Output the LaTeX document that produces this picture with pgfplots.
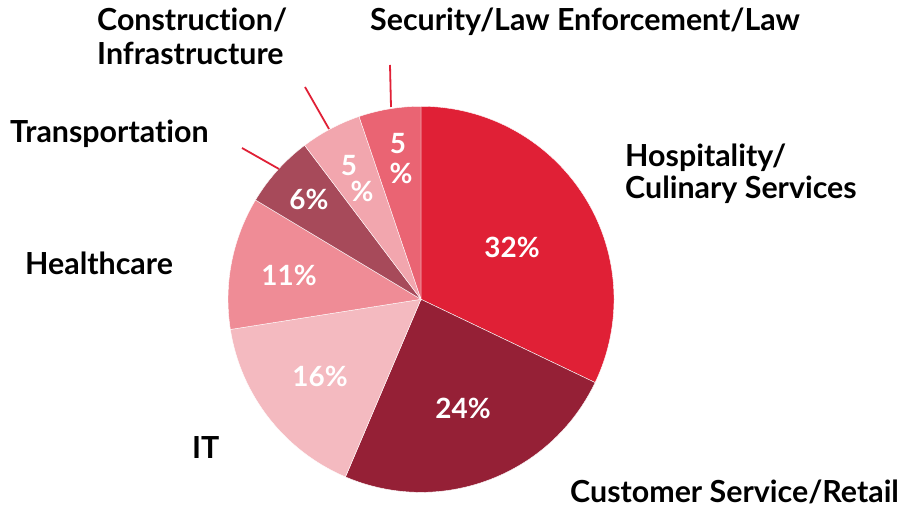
\documentclass[border=0pt]{standalone}
\usepackage{pgfplots}
\pgfplotsset{compat=1.18}
\usepackage{pgfplotstable}
\usepackage{fontspec}
\setmainfont{Lato}[Ligatures=NoCommon]
\definecolor{c1}{HTML}{E02036}
\definecolor{c2}{HTML}{952036}
\definecolor{c3}{HTML}{F4BAC0}
\definecolor{c4}{HTML}{EF8C96}
\definecolor{c5}{HTML}{A74A5A}
\definecolor{c6}{HTML}{F2A6AE}
\definecolor{c7}{HTML}{EA6473}
\definecolor{lead}{HTML}{E02036}
\pgfplotstableread{
value col
32.1 c1
24.3 c2
16.1 c3
11.1 c4
6.1 c5
5.1 c6
5.2 c7
}\piedata
\begin{document}
\begin{tikzpicture}
\begin{axis}[
  width=906bp, height=506bp, scale only axis,
  xmin=0, xmax=906, ymin=0, ymax=506,
  hide axis, clip=false,
]
\path (axis cs:0,0) rectangle (axis cs:906,506);
\pgfmathsetmacro\cum{0}
\pgfplotsforeachungrouped \i in {0,...,6}{%
  \pgfplotstablegetelem{\i}{value}\of\piedata
  \let\v\pgfplotsretval
  \pgfplotstablegetelem{\i}{col}\of\piedata
  \let\cc\pgfplotsretval
  \pgfmathsetmacro\sa{90-3.6*\cum}%
  \pgfmathsetmacro\ea{90-3.6*(\cum+\v)}%
  \pgfmathsetmacro\cum{\cum+\v}%
  \global\let\cum\cum
  \edef\temp{\noexpand\fill[fill=\cc, draw=white, line width=0.4pt]
    (axis cs:421,206.7) -- ++(\sa:193bp) arc[start angle=\sa, end angle=\ea, radius=193bp] -- cycle;}%
  \temp
}
% leader lines
\draw[lead, line width=1.8bp] (axis cs:391,399) -- (axis cs:390,441);
\draw[lead, line width=1.8bp] (axis cs:329,377) -- (axis cs:305,419);
\draw[lead, line width=1.8bp] (axis cs:279,337) -- (axis cs:242,358);
% percentage labels
\begin{scope}[every node/.style={font=\fontsize{28}{30}\selectfont\bfseries, text=white, inner sep=0pt}]
\node at (axis cs:512,259) {32\%};
\node at (axis cs:463,98) {24\%};
\node at (axis cs:320,130) {16\%};
\node at (axis cs:289,231) {11\%};
\node at (axis cs:309,307) {6\%};
\node at (axis cs:349,340) {5};
\node at (axis cs:362,315) {\%};
\node at (axis cs:398,362) {5};
\node at (axis cs:401,333) {\%};
\end{scope}
% category labels
\begin{scope}[every node/.style={font=\fontsize{30.5}{33}\selectfont\bfseries, text=black, inner sep=0pt, anchor=base west}]
\node at (axis cs:370,475) {Security/Law Enforcement/Law};
\node at (axis cs:97,475) {Construction/};
\node at (axis cs:97,441) {Infrastructure};
\node at (axis cs:625,339) {Hospitality/};
\node at (axis cs:625,307) {Culinary Services};
\node at (axis cs:10,363) {Transportation};
\node at (axis cs:25,231) {Healthcare};
\node at (axis cs:192,47) {IT};
\node at (axis cs:570,3) {Customer Service/Retail};
\end{scope}
\end{axis}
\end{tikzpicture}
\end{document}
